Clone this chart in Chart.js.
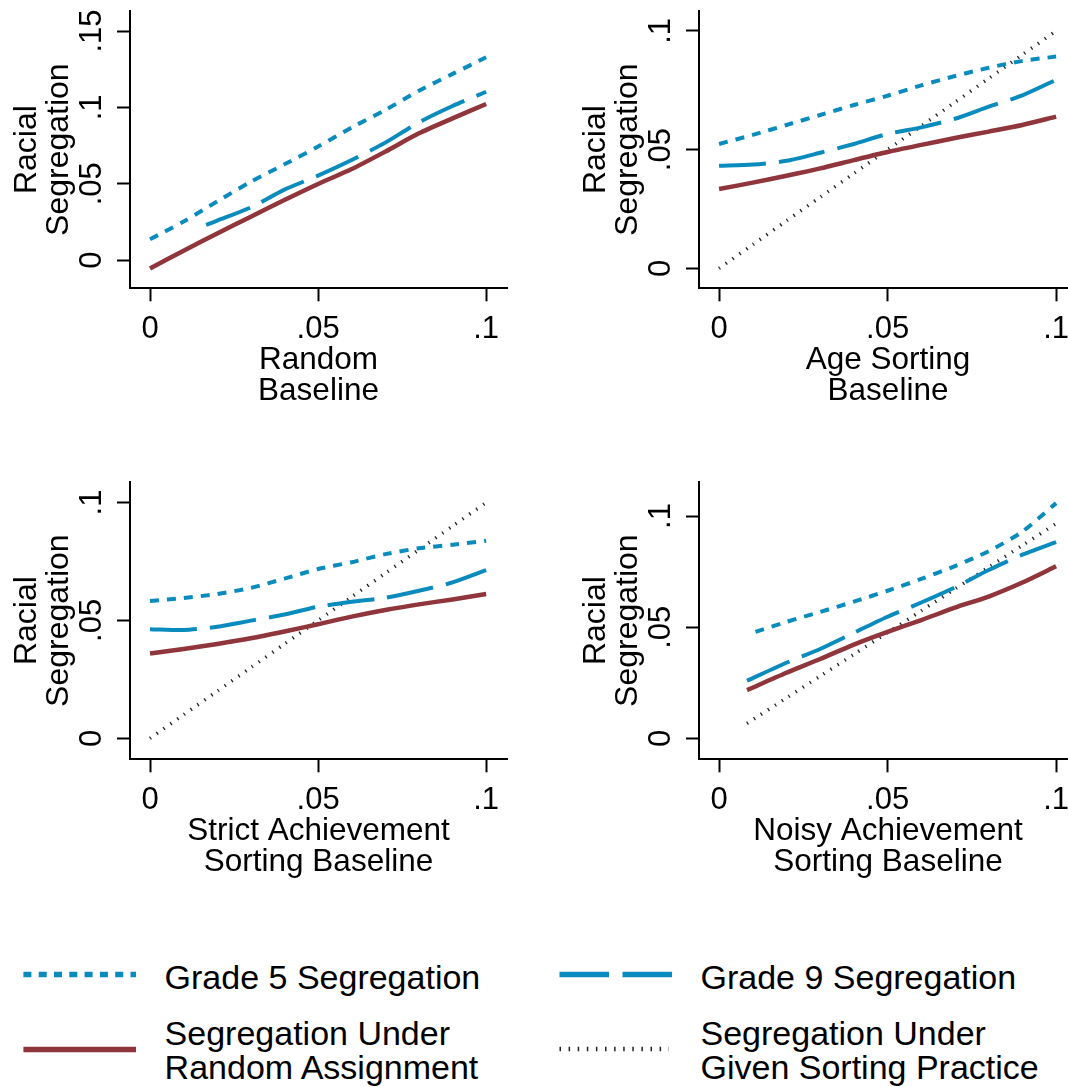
<!DOCTYPE html>
<html>
<head>
<meta charset="utf-8">
<script src="https://cdn.jsdelivr.net/npm/chart.js@4.4.1/dist/chart.umd.min.js"></script>
<style>
html, body { margin: 0; padding: 0; background: #fff; width: 1068px; height: 1087px; overflow: hidden; position: relative; }
canvas.panel { position: absolute; }
#legend { position: absolute; left: 0; top: 930px; }
</style>
</head>
<body>
<canvas id="c1" class="panel"></canvas>
<canvas id="c2" class="panel"></canvas>
<canvas id="c3" class="panel"></canvas>
<canvas id="c4" class="panel"></canvas>
<svg id="legend" width="1068" height="157" xmlns="http://www.w3.org/2000/svg"></svg>
<script>
// ---------------- DATA ----------------
const seriesNames = ['Grade 5 Segregation', 'Grade 9 Segregation', 'Segregation Under Random Assignment', 'Segregation Under Given Sorting Practice'];
const legendLines = [['Grade 5 Segregation'], ['Grade 9 Segregation'], ['Segregation Under', 'Random Assignment'], ['Segregation Under', 'Given Sorting Practice']];
const yTitle = ['Racial', 'Segregation'];
const xTitles = [['Random', 'Baseline'], ['Age Sorting', 'Baseline'], ['Strict Achievement', 'Sorting Baseline'], ['Noisy Achievement', 'Sorting Baseline']];

const xTickVals = [0, 0.05, 0.1];
const xTickLabels = ['0', '.05', '.1'];
const yTickVals1 = [0, 0.05, 0.1, 0.15];
const yTickLabels1 = ['0', '.05', '.1', '.15'];
const yTickVals = [0, 0.05, 0.1];
const yTickLabels = ['0', '.05', '.1'];

// Panel 1: Random baseline
const p1X = [0, 0.01, 0.02, 0.03, 0.04, 0.05, 0.06, 0.07, 0.08, 0.09, 0.1];
const p1Grade5 = [0.0136, 0.0252, 0.0384, 0.0513, 0.0627, 0.0743, 0.0868, 0.0983, 0.1109, 0.1219, 0.1328];
const p1Grade9X = [0.0167, 0.02, 0.03, 0.04, 0.05, 0.06, 0.07, 0.08, 0.09, 0.1];
const p1Grade9 = [0.0230, 0.0258, 0.0345, 0.0461, 0.0553, 0.0655, 0.0769, 0.0902, 0.1009, 0.1102];
const p1Random = [-0.0055, 0.0061, 0.0174, 0.0284, 0.0393, 0.0498, 0.0596, 0.0710, 0.0830, 0.0928, 0.1022];

// Panel 2: Age sorting baseline
const p2X = [0, 0.01, 0.02, 0.03, 0.04, 0.05, 0.06, 0.07, 0.08, 0.09, 0.1];
const p2Grade5 = [0.0524, 0.0562, 0.0604, 0.0646, 0.0688, 0.0727, 0.0771, 0.0810, 0.0845, 0.0874, 0.0892];
const p2Grade9 = [0.0432, 0.0437, 0.0453, 0.0487, 0.0524, 0.0566, 0.0594, 0.0630, 0.0681, 0.0729, 0.0794];
const p2Random = [0.0334, 0.0361, 0.0390, 0.0421, 0.0456, 0.0490, 0.0520, 0.0549, 0.0576, 0.0604, 0.0639];
const p2Sorting = [0.000, 0.010, 0.020, 0.030, 0.040, 0.050, 0.060, 0.070, 0.080, 0.090, 0.100];

// Panel 3: Strict achievement sorting baseline
const p3X = [0, 0.01, 0.02, 0.03, 0.04, 0.05, 0.06, 0.07, 0.08, 0.09, 0.1];
const p3Grade5 = [0.0582, 0.0595, 0.0612, 0.0638, 0.0677, 0.0718, 0.0747, 0.0781, 0.0806, 0.0821, 0.0838];
const p3Grade9 = [0.0463, 0.0459, 0.0473, 0.0499, 0.0525, 0.0558, 0.0579, 0.0596, 0.0626, 0.0661, 0.0713];
const p3Random = [0.0360, 0.0379, 0.0400, 0.0424, 0.0453, 0.0484, 0.0516, 0.0544, 0.0568, 0.0589, 0.0612];
const p3Sorting = [0.000, 0.010, 0.020, 0.030, 0.040, 0.050, 0.060, 0.070, 0.080, 0.090, 0.100];

// Panel 4: Noisy achievement sorting baseline
const p4Grade5X = [0.0108, 0.02, 0.03, 0.04, 0.05, 0.06, 0.07, 0.08, 0.09, 0.1];
const p4Grade5 = [0.0479, 0.0524, 0.0569, 0.0615, 0.0664, 0.0717, 0.0775, 0.0842, 0.0930, 0.1058];
const p4X = [0.0083, 0.02, 0.03, 0.04, 0.05, 0.06, 0.07, 0.08, 0.09, 0.1];
const p4Grade9 = [0.0259, 0.0340, 0.0402, 0.0475, 0.0547, 0.0611, 0.0679, 0.0757, 0.0826, 0.0883];
const p4Random = [0.0217, 0.0295, 0.0357, 0.0422, 0.0479, 0.0532, 0.0588, 0.0638, 0.0701, 0.0774];
const p4Sorting = [0.0067, 0.0182, 0.0280, 0.0378, 0.0476, 0.0574, 0.0672, 0.0770, 0.0868, 0.0966];

// ---------------- STYLE ----------------
const BLUE = 'rgb(10,139,189)';
const RED = 'rgb(144,53,59)';
const DOT = '#222';
const FONT = "'Liberation Sans', Arial, sans-serif";

function pts(xs, ys) { return xs.map((x, i) => ({ x: x, y: ys[i] })); }

const styles = [
  { borderColor: BLUE, borderWidth: 4, borderDash: [9, 8] },
  { borderColor: BLUE, borderWidth: 4, borderDash: [47, 13] },
  { borderColor: RED, borderWidth: 4.5, borderDash: [] },
  { borderColor: DOT, borderWidth: 3.5, borderDash: [1.3, 7] }
];

function ds(idx, xs, ys) {
  return Object.assign({
    label: seriesNames[idx], data: pts(xs, ys), pointRadius: 0, fill: false,
    tension: 0.25, borderCapStyle: 'butt'
  }, styles[idx]);
}

const PAD_TOP = 24, PAD_RIGHT = 30;
const panels = [
  { id: 'c1', L: 0, T: -13, W: 537, H: 420, yW: 130, xH: 118.7, yMin: -0.0185, yMax: 0.1631, yt: yTickVals1, yl: yTickLabels1, title: xTitles[0],
    datasets: [ds(0, p1X, p1Grade5), ds(1, p1Grade9X, p1Grade9), ds(2, p1X, p1Random)] },
  { id: 'c2', L: 569, T: -13, W: 538, H: 420, yW: 130, xH: 118.7, yMin: -0.0084, yMax: 0.1084, yt: yTickVals, yl: yTickLabels, title: xTitles[1],
    datasets: [ds(0, p2X, p2Grade5), ds(1, p2X, p2Grade9), ds(2, p2X, p2Random), ds(3, p2X, p2Sorting)] },
  { id: 'c3', L: 0, T: 458, W: 537, H: 420, yW: 130, xH: 118.7, yMin: -0.0089, yMax: 0.1087, yt: yTickVals, yl: yTickLabels, title: xTitles[2],
    datasets: [ds(0, p3X, p3Grade5), ds(1, p3X, p3Grade9), ds(2, p3X, p3Random), ds(3, p3X, p3Sorting)] },
  { id: 'c4', L: 569, T: 458, W: 538, H: 420, yW: 130, xH: 118.7, yMin: -0.0094, yMax: 0.1153, yt: yTickVals, yl: yTickLabels, title: xTitles[3],
    datasets: [ds(0, p4Grade5X, p4Grade5), ds(1, p4X, p4Grade9), ds(2, p4X, p4Random), ds(3, p4X, p4Sorting)] }
];

const axisGrid = { display: true, drawOnChartArea: false, drawTicks: true, tickLength: 13, tickWidth: 2, tickColor: '#000' };
const axisBorder = { display: true, color: '#000', width: 2 };

panels.forEach(p => {
  const cv = document.getElementById(p.id);
  cv.width = p.W; cv.height = p.H;
  cv.style.left = p.L + 'px'; cv.style.top = p.T + 'px';
  cv.style.width = p.W + 'px'; cv.style.height = p.H + 'px';
  new Chart(cv, {
    type: 'line',
    data: { datasets: p.datasets },
    options: {
      responsive: false, animation: false, devicePixelRatio: 1,
      layout: { padding: { top: PAD_TOP, right: PAD_RIGHT, left: 0, bottom: 0 } },
      plugins: { legend: { display: false }, tooltip: { enabled: false } },
      scales: {
        x: {
          type: 'linear', min: -0.00595, max: 0.1062,
          grid: axisGrid, border: axisBorder,
          afterBuildTicks: s => { s.ticks = xTickVals.map(v => ({ value: v })); },
          afterFit: s => { s.height = p.xH; },
          ticks: { color: '#000', font: { family: FONT, size: 31, lineHeight: 1.0 }, padding: 13, maxRotation: 0, autoSkip: false,
            callback: (v) => { const i = xTickVals.indexOf(v); return i >= 0 ? xTickLabels[i] : ''; } },
          title: { display: true, text: p.title, color: '#000', font: { family: FONT, size: 31.5, lineHeight: 0.98 }, padding: { top: 0, bottom: 0 } }
        },
        y: {
          type: 'linear', min: p.yMin, max: p.yMax,
          grid: axisGrid, border: axisBorder,
          afterBuildTicks: s => { s.ticks = p.yt.map(v => ({ value: v })); },
          afterFit: s => { s.width = p.yW; },
          ticks: { color: '#000', font: { family: FONT, size: 31, lineHeight: 1.0 }, padding: 3, minRotation: 90, maxRotation: 90, crossAlign: 'center', autoSkip: false,
            callback: (v) => { const i = p.yt.indexOf(v); return i >= 0 ? p.yl[i] : ''; } },
          title: { display: true, text: yTitle, color: '#000', font: { family: FONT, size: 32, lineHeight: 1.0 }, padding: { top: 11, bottom: 0 } }
        }
      }
    }
  });
});

// ---------------- LEGEND ----------------
const svgNS = 'http://www.w3.org/2000/svg';
const lg = document.getElementById('legend');
const OFF = 930;
const legendItems = [
  { idx: 0, x1: 23.4, x2: 136, y: 974.5, tx: 164.6, ty: [988.5], dash: '8 7.3', w: 5.5, col: BLUE },
  { idx: 1, x1: 559.5, x2: 672, y: 974.5, tx: 700.5, ty: [988.5], dash: '49.5 13.5', w: 5.5, col: BLUE },
  { idx: 2, x1: 23.4, x2: 136, y: 1049.5, tx: 164.6, ty: [1044.5, 1079], dash: '', w: 5.5, col: RED },
  { idx: 3, x1: 559.5, x2: 669, y: 1049, tx: 700.5, ty: [1044.5, 1079], dash: '1.5 7.6', w: 4.5, col: DOT }
];
legendItems.forEach(it => {
  const ln = document.createElementNS(svgNS, 'line');
  ln.setAttribute('x1', it.x1); ln.setAttribute('x2', it.x2);
  ln.setAttribute('y1', it.y - OFF); ln.setAttribute('y2', it.y - OFF);
  ln.setAttribute('stroke', it.col); ln.setAttribute('stroke-width', it.w);
  if (it.dash) ln.setAttribute('stroke-dasharray', it.dash);
  lg.appendChild(ln);
  legendLines[it.idx].forEach((t, k) => {
    const tx = document.createElementNS(svgNS, 'text');
    tx.setAttribute('x', it.tx); tx.setAttribute('y', it.ty[k] - OFF);
    tx.setAttribute('font-family', FONT); tx.setAttribute('font-size', '34');
    tx.setAttribute('fill', '#000');
    tx.textContent = t;
    lg.appendChild(tx);
  });
});
</script>
</body>
</html>
